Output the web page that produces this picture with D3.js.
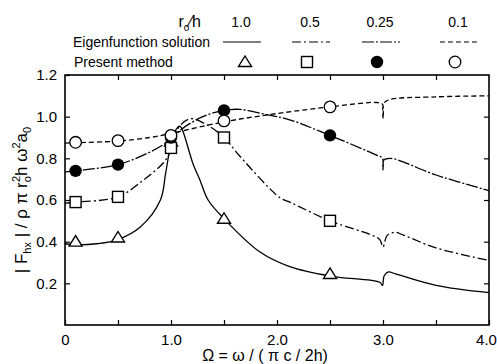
<!DOCTYPE html>
<html>
<head>
<meta charset="utf-8">
<script src="https://cdn.jsdelivr.net/npm/d3@7"></script>
<style>
  body { margin: 0; background: #fff; }
  text { font-family: "Liberation Sans", Arial, sans-serif; fill: #000; }
</style>
</head>
<body>
<svg id="chart" width="497" height="364"></svg>
<script>
// r0/h values
const ratios = ["1.0", "0.5", "0.25", "0.1"];

// eigenfunction solution curves (omega, |F|)
const curve10x = [0, 0.1, 0.3, 0.5, 0.71, 0.9, 0.95, 1.0, 1.05, 1.08, 1.1, 1.21, 1.27, 1.35, 1.5, 1.84, 2.12, 2.5, 2.97, 2.995, 3.01, 3.05, 3.12, 3.5, 4.0];
const curve10y = [0.39, 0.385, 0.39, 0.41, 0.47, 0.60, 0.73, 0.87, 0.94, 0.955, 0.945, 0.77, 0.70, 0.60, 0.51, 0.35, 0.28, 0.235, 0.205, 0.19, 0.235, 0.255, 0.245, 0.19, 0.155];

const curve05x = [0, 0.1, 0.5, 0.75, 0.93, 1.0, 1.06, 1.18, 1.34, 1.5, 1.65, 2.03, 2.12, 2.5, 2.9, 2.97, 3.0, 3.04, 3.11, 3.2, 3.5, 4.0];
const curve05y = [0.585, 0.59, 0.615, 0.70, 0.78, 0.84, 0.94, 0.99, 0.96, 0.90, 0.81, 0.61, 0.59, 0.50, 0.43, 0.41, 0.375, 0.43, 0.445, 0.43, 0.37, 0.31];

const curve025x = [0, 0.1, 0.5, 0.8, 1.0, 1.1, 1.3, 1.5, 1.65, 1.9, 2.12, 2.5, 2.94, 2.995, 3.0, 3.005, 3.07, 3.5, 4.0];
const curve025y = [0.735, 0.74, 0.77, 0.83, 0.89, 0.94, 1.0, 1.03, 1.035, 1.01, 0.985, 0.91, 0.815, 0.80, 0.745, 0.79, 0.80, 0.72, 0.645];

const curve01x = [0, 0.1, 0.5, 0.8, 1.0, 1.5, 2.0, 2.5, 2.94, 2.995, 3.0, 3.005, 3.05, 3.5, 4.0];
const curve01y = [0.873, 0.875, 0.883, 0.90, 0.92, 0.975, 1.015, 1.047, 1.068, 1.06, 0.99, 1.06, 1.08, 1.095, 1.10];

// present method points
const pointsX = [0.1, 0.5, 1.0, 1.5, 2.5];
const points10 = [0.40, 0.42, 0.88, 0.51, 0.245];
const points05 = [0.59, 0.615, 0.85, 0.90, 0.50];
const points025 = [0.74, 0.77, 0.90, 1.03, 0.91];
const points01 = [0.877, 0.885, 0.91, 0.98, 1.047];

const xTicks = [0, 0.5, 1, 1.5, 2, 2.5, 3, 3.5, 4];
const xLabels = {0: "0", 1: "1.0", 2: "2.0", 3: "3.0", 4: "4.0"};
const yTicks = [0.2, 0.4, 0.6, 0.8, 1.0, 1.2];

const dashes = [null, "9,3,2,3", "12,2,2,2", "5,3"];
const markers = ["triangle", "square", "filled", "circle"];

const series = [
  {xs: curve10x, ys: curve10y, pts: points10},
  {xs: curve05x, ys: curve05y, pts: points05},
  {xs: curve025x, ys: curve025y, pts: points025},
  {xs: curve01x, ys: curve01y, pts: points01}
];

const svg = d3.select("#chart");
const margin = {left: 65, right: 8, top: 75, bottom: 39};
const width = 497, height = 364;

const x = d3.scaleLinear().domain([0, 4]).range([margin.left, width - margin.right]);
const y = d3.scaleLinear().domain([0, 1.2]).range([height - margin.bottom, margin.top]);

// axes, ticks pointing inward
svg.append("g")
  .attr("transform", `translate(0,${y(0)})`)
  .call(d3.axisBottom(x).tickValues(xTicks).tickSizeInner(-5).tickSizeOuter(0).tickPadding(9)
    .tickFormat(d => xLabels[d] || ""))
  .call(g => g.select(".domain").remove())
  .call(g => g.selectAll(".tick text").attr("font-size", 15).attr("font-family", "Liberation Sans, Arial, sans-serif"))
  .call(g => g.selectAll(".tick text").filter(d => d === 4).attr("dx", -3));

svg.append("g")
  .attr("transform", `translate(0,${y(1.2)})`)
  .call(d3.axisTop(x).tickValues(xTicks.slice(1, -1)).tickSizeInner(-5).tickSizeOuter(0).tickFormat(""))
  .call(g => g.select(".domain").remove());

svg.append("g")
  .attr("transform", `translate(${x(0)},0)`)
  .call(d3.axisLeft(y).tickValues(yTicks).tickSizeInner(-5).tickSizeOuter(0).tickPadding(8)
    .tickFormat(d3.format(".1f")))
  .call(g => g.select(".domain").remove())
  .call(g => g.selectAll(".tick text").attr("font-size", 15).attr("font-family", "Liberation Sans, Arial, sans-serif"));

svg.append("g")
  .attr("transform", `translate(${x(4)},0)`)
  .call(d3.axisRight(y).tickValues(yTicks.slice(0, -1)).tickSizeInner(-5).tickSizeOuter(0).tickFormat(""))
  .call(g => g.select(".domain").remove());

svg.selectAll(".tick line").attr("stroke", "#000").attr("stroke-width", 1.2);

svg.append("rect")
  .attr("x", x(0)).attr("y", y(1.2))
  .attr("width", x(4) - x(0)).attr("height", y(0) - y(1.2))
  .attr("fill", "none").attr("stroke", "#000").attr("stroke-width", 1.6);

// curves
const line = d3.line()
  .x(d => x(d[0]))
  .y(d => y(d[1]))
  .curve(d3.curveCatmullRom.alpha(0.5));

series.forEach((s, i) => {
  svg.append("path")
    .datum(s.xs.map((v, j) => [v, s.ys[j]]))
    .attr("fill", "none")
    .attr("stroke", "#000")
    .attr("stroke-width", 1.3)
    .attr("stroke-dasharray", dashes[i])
    .attr("d", line);
});

function drawMarker(g, kind, cx, cy) {
  if (kind === "triangle") {
    g.append("path")
      .attr("d", `M${cx},${cy - 6}L${cx + 6.5},${cy + 4.5}L${cx - 6.5},${cy + 4.5}Z`)
      .attr("fill", "#fff").attr("stroke", "#000").attr("stroke-width", 1.4);
  } else if (kind === "square") {
    g.append("rect")
      .attr("x", cx - 5.5).attr("y", cy - 5.5).attr("width", 11).attr("height", 11)
      .attr("fill", "#fff").attr("stroke", "#000").attr("stroke-width", 1.4);
  } else if (kind === "filled") {
    g.append("circle").attr("cx", cx).attr("cy", cy).attr("r", 6.2).attr("fill", "#000");
  } else {
    g.append("circle").attr("cx", cx).attr("cy", cy).attr("r", 5.8)
      .attr("fill", "#fff").attr("stroke", "#000").attr("stroke-width", 1.3);
  }
}

const markG = svg.append("g");
series.forEach((s, i) => {
  s.pts.forEach((v, j) => drawMarker(markG, markers[i], x(pointsX[j]), y(v)));
});

// legend
const legendX = [241, 310, 380, 458];
const legend = svg.append("g").attr("font-size", 14);

const rh = legend.append("text").attr("x", 201).attr("y", 27).attr("text-anchor", "end").attr("font-size", 16);
rh.append("tspan").text("r");
rh.append("tspan").attr("font-size", 10).attr("dy", 4).text("o");
rh.append("tspan").attr("dy", -4).text("\u2044h");

ratios.forEach((r, i) => {
  legend.append("text").attr("x", legendX[i]).attr("y", 27).attr("text-anchor", "middle").text(r);
  legend.append("line")
    .attr("x1", legendX[i] - 18).attr("x2", legendX[i] + 20)
    .attr("y1", 42).attr("y2", 42)
    .attr("stroke", "#000").attr("stroke-width", 1.2)
    .attr("stroke-dasharray", dashes[i]);
  drawMarker(legend, markers[i], legendX[i] + (i === 0 ? 4 : -3), 62);
});

legend.append("text").attr("x", 73).attr("y", 47).text("Eigenfunction solution");
legend.append("text").attr("x", 74).attr("y", 67).text("Present method");

// axis titles
svg.append("text")
  .attr("x", 265).attr("y", 361)
  .attr("text-anchor", "middle")
  .attr("font-size", 16)
  .text("\u03A9 = \u03C9 / ( \u03C0 c / 2h)");

const yt = svg.append("text")
  .attr("transform", "translate(27,200) rotate(-90)")
  .attr("text-anchor", "middle")
  .attr("font-size", 17);
yt.append("tspan").text("| F");
yt.append("tspan").attr("font-size", 11).attr("dy", 4).text("hx");
yt.append("tspan").attr("dy", -4).text(" | / \u03C1 \u03C0 r");
yt.append("tspan").attr("font-size", 11).attr("dy", 4).text("o");
yt.append("tspan").attr("font-size", 11).attr("dy", -11).attr("dx", -6).text("2");
yt.append("tspan").attr("dy", 7).text("h \u03C9");
yt.append("tspan").attr("font-size", 11).attr("dy", -7).text("2");
yt.append("tspan").attr("dy", 7).text("a");
yt.append("tspan").attr("font-size", 11).attr("dy", 4).text("0");
</script>
</body>
</html>
